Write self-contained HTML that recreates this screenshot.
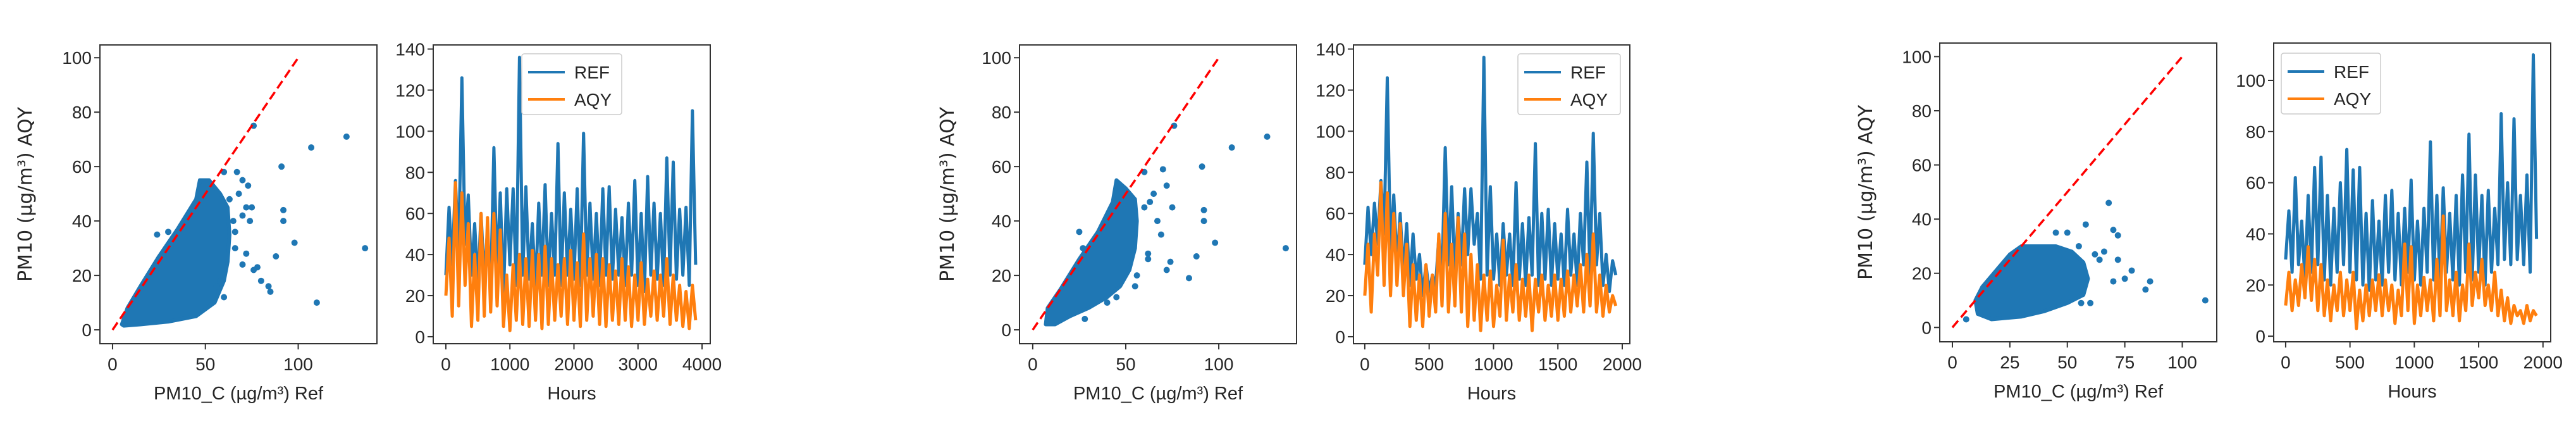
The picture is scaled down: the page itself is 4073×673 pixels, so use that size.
<!DOCTYPE html>
<html><head><meta charset="utf-8"><style>
html,body{margin:0;padding:0;background:#fff;}
svg{display:block;}
text{font-family:"Liberation Sans",sans-serif;fill:#262626;}
</style></head><body>
<svg id="fig" width="4073" height="673" viewBox="0 0 4073 673" xmlns="http://www.w3.org/2000/svg"></svg>
<script>
// ---------- scatter data ----------
const hull1 = [[5,2],[8,8],[15,16],[25,27],[35,37],[45,48],[47,55],[52,55],[58,50],[62,45],[63,35],[62,25],[60,18],[55,10],[45,5],[30,3],[15,2],[6,1.5]];
const out1x = [76,107,126,91,92,92,98,88,136,110,84,85,72,75,70,73,67,60,78,80,76,70,72,63,65,66,74,58,56,60,24,30,68,70,66];
const out1y = [75,67,71,60,44,40,32,27,30,10,16,14,45,45,55,53,58,58,23,18,22,24,28,48,40,36,40,18,16,12,35,36,50,42,30];
const hull3 = [[7,2],[8,8],[15,15],[25,26],[35,36],[43,47],[45,55],[50,52],[55,48],[56,40],[55,30],[52,22],[47,16],[40,12],[30,8],[20,5],[12,2]];
const out3x = [76,107,126,91,92,92,98,88,136,84,74,72,75,72,70,60,63,67,69,62,62,56,55,45,40,28,25,27,65,60];
const out3y = [75,67,71,60,44,40,32,27,30,19,25,22,45,53,59,58,47,40,35,28,26,20,16,12,10,4,36,30,50,45];
const hull5 = [[11,5],[10,10],[13,15],[20,22],[25,27],[30,30],[45,30],[52,28],[57,24],[59,18],[57,12],[50,9],[40,6],[30,4],[17,3]];
const out5x = [68,58,70,72,50,45,66,72,78,75,86,84,70,60,110,6,55,62,64,56];
const out5y = [46,38,36,34,35,35,28,25,21,18,17,14,17,9,10,3,30,27,25,9];
// ---------- time-series data ----------
const ref2 = [30,63,35,76,40,126,45,69,30,55,25,60,28,52,22,92,30,70,20,72,35,72,25,136,30,73,28,55,22,65,30,74,25,60,30,94,25,70,30,62,28,72,25,99,30,65,28,60,25,72,30,73,28,62,30,58,25,65,30,76,25,60,22,78,30,65,28,60,25,87,30,85,28,62,30,63,25,110,35];
const aqy2 = [20,48,10,75,15,70,25,55,5,40,8,60,10,58,12,60,15,52,5,30,3,35,8,40,6,38,5,42,8,40,4,44,6,38,8,35,10,38,6,42,8,36,5,50,8,38,10,40,6,38,5,35,8,32,6,38,8,34,5,30,8,36,6,28,10,32,8,30,10,38,6,30,8,25,5,22,4,25,8];
const ref4 = [35,63,40,65,45,76,50,126,40,69,35,60,30,55,25,50,28,40,20,35,22,30,25,48,30,92,35,73,30,60,35,72,40,72,45,60,28,136,30,73,28,50,25,55,30,50,25,75,28,55,25,58,30,94,25,60,28,62,25,55,28,50,25,62,30,50,25,60,35,85,30,99,35,60,25,40,22,37,30];
const aqy4 = [20,45,12,50,30,75,25,70,20,60,25,55,20,45,5,35,8,30,5,35,10,30,12,50,15,60,12,45,15,58,12,50,5,40,8,35,3,30,8,32,5,25,10,47,8,30,12,35,8,28,10,30,3,28,12,30,8,25,10,30,8,28,10,32,12,30,15,35,12,40,15,50,12,30,10,25,12,20,15];
const ref6 = [30,49,25,62,28,45,22,55,25,66,28,70,22,55,20,50,25,60,28,73,25,65,22,66,20,48,18,53,22,45,20,55,25,57,22,48,20,50,25,61,22,45,20,50,25,76,22,55,20,58,25,48,22,55,20,63,25,79,22,63,25,55,20,57,25,50,28,87,30,60,28,85,30,55,28,63,25,110,38];
const aqy6 = [12,25,10,22,12,28,15,35,14,30,10,28,8,22,6,20,10,25,8,22,10,25,3,18,6,20,8,22,10,24,8,22,10,20,5,18,8,36,10,35,5,20,8,23,10,22,6,30,8,47,10,22,8,25,6,20,10,36,12,25,15,30,12,20,10,25,8,18,6,15,5,12,8,10,5,12,6,10,8];
const ticks2x = [0,1000,2000,3000,4000];
const ticks4x = [0,500,1000,1500,2000];
const ticksTy = [0,20,40,60,80,100,120,140];
const ticks6y = [0,20,40,60,80,100];
const ticksSx = [0,50,100];
const ticks5x = [0,25,50,75,100];
const ticksSy = [0,20,40,60,80,100];

const NS = "http://www.w3.org/2000/svg";
const svg = document.getElementById('fig');
function mk(tag, attrs, parent){
  const e = document.createElementNS(NS, tag);
  for (const k in attrs) e.setAttribute(k, attrs[k]);
  (parent||svg).appendChild(e);
  return e;
}
function scale(d0,d1,p0,p1){return v => p0 + (v-d0)*(p1-p0)/(d1-d0);}

function axesFrame(g, L, T, R, B, sx, sy, xt, yt, xlabel, ylabel, ylabX){
  for (const v of yt){
    const y = sy(v);
    const tk = mk('line',{x1:L-9,x2:L,y1:y,y2:y,stroke:'#333','stroke-width':2},g);
    
    
    const t = mk('text',{x:L-13,y:y+10,'font-size':28,'text-anchor':'end'},g);
    t.textContent = v;
    
    
  }
  for (const v of xt){
    const x = sx(v);
    const tk = mk('line',{x1:x,x2:x,y1:B,y2:B+9,stroke:'#333','stroke-width':2},g);
    
    
    const t = mk('text',{x:x,y:B+42,'font-size':28,'text-anchor':'middle'},g);
    t.textContent = v;
    
    
  }
  const fr = mk('rect',{x:L,y:T,width:R-L,height:B-T,fill:'none',stroke:'#333','stroke-width':2},g);
  
  
  const xl = mk('text',{x:(L+R)/2,y:B+88,'font-size':29,'text-anchor':'middle'},g);
  xl.textContent = xlabel;
  
  
  if (ylabel){
    const yl = mk('text',{x:ylabX,y:(T+B)/2,'font-size':30,'text-anchor':'middle',transform:`rotate(-90 ${ylabX} ${(T+B)/2})`},g);
    yl.style.fontFamily = '"DejaVu Sans", sans-serif';
    yl.textContent = ylabel;
    
    
  }
}

function scatter(name, L,T,R,B, xd, yd, hull, ox, oy, xt, ylabX){
  const g = mk('g',{});
  
  
  const sx = scale(xd[0],xd[1],L,R), sy = scale(yd[0],yd[1],B,T);
  const cp = mk('clipPath',{id:name+'-clip'},g);
  mk('rect',{x:L,y:T,width:R-L,height:B-T},cp);
  const inner = mk('g',{'clip-path':`url(#${name}-clip)`},g);
  const poly = mk('polygon',{points:hull.map(p=>sx(p[0])+','+sy(p[1])).join(' '),fill:'#1f77b4',stroke:'#1f77b4','stroke-width':6,'stroke-linejoin':'round'},inner);
  
  
  for (let i=0;i<ox.length;i++){
    const c = mk('circle',{cx:sx(ox[i]),cy:sy(oy[i]),r:5,fill:'#1f77b4'},inner);
    
    
  }
  const ln = mk('line',{x1:sx(0),y1:sy(0),x2:sx(100),y2:sy(100),stroke:'#ff0000','stroke-width':3.5,'stroke-dasharray':'14,7'},inner);
  
  
  axesFrame(g,L,T,R,B,sx,sy,xt,ticksSy,'PM10_C (µg/m³) Ref','PM10 (µg/m³) AQY',ylabX);
}

function series(name, L,T,R,B, xd, yd, maxH, ref, aqy, xt, yt, leg){
  const g = mk('g',{});
  
  
  const sx = scale(xd[0],xd[1],L,R), sy = scale(yd[0],yd[1],B,T);
  const cp = mk('clipPath',{id:name+'-clip'},g);
  mk('rect',{x:L,y:T,width:R-L,height:B-T},cp);
  const inner = mk('g',{'clip-path':`url(#${name}-clip)`},g);
  const path = (arr) => arr.map((v,i)=>(i?'L':'M')+sx(i*maxH/(arr.length-1)).toFixed(1)+','+sy(v).toFixed(1)).join('');
  const p1 = mk('path',{d:path(ref),fill:'none',stroke:'#1f77b4','stroke-width':5,'stroke-linejoin':'round'},inner);
  
  
  const p2 = mk('path',{d:path(aqy),fill:'none',stroke:'#ff7f0e','stroke-width':5,'stroke-linejoin':'round'},inner);
  
  
  axesFrame(g,L,T,R,B,sx,sy,xt,yt,'Hours',null,0);
  const lg = mk('g',{},g);
  
  
  mk('rect',{x:leg[0],y:leg[1],width:leg[2],height:96,rx:4,fill:'#fff','fill-opacity':0.85,stroke:'#ccc','stroke-width':1.5},lg);
  const items = [['REF','#1f77b4'],['AQY','#ff7f0e']];
  items.forEach((it,k)=>{
    const y = leg[1]+29+k*43;
    const l = mk('line',{x1:leg[0]+10,x2:leg[0]+68,y1:y,y2:y,stroke:it[1],'stroke-width':4},lg);
    
    
    const t = mk('text',{x:leg[0]+83,y:y+10,'font-size':28},lg);
    t.textContent = it[0];
    
    
  });
}

scatter('scatter-1',158,71,596,543,[-6.8,142.4],[-5.1,104.7],hull1,out1x,out1y,ticksSx,50);
series('timeseries-2',685,71,1123,543,[-197,4128],[-3.4,142],3900,ref2,aqy2,ticks2x,ticksTy,[825,85,158]);
scatter('scatter-3',1612,71,2050,543,[-7.1,141.8],[-5.1,104.7],hull3,out3x,out3y,ticksSx,1508);
series('timeseries-4',2140,71,2577,543,[-88,2059],[-3.4,142],1950,ref4,aqy4,ticks4x,ticksTy,[2400,85,162]);
scatter('scatter-5',3067,68,3505,540,[-5.5,115],[-5.3,105],hull5,out5x,out5y,ticks5x,2960);
series('timeseries-6',3595,68,4033,540,[-93,2060],[-2.2,114.6],1950,ref6,aqy6,ticks4x,ticks6y,[3607,84,157]);
</script>
</body></html>
